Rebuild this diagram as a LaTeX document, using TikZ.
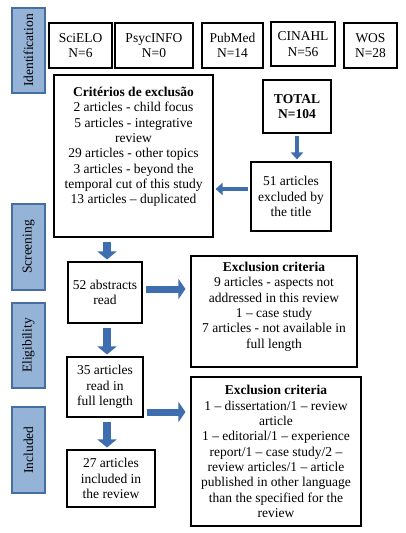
\documentclass[tikz,border=0pt]{standalone}
\usepackage{fontspec}
\setmainfont{Liberation Serif}
\usetikzlibrary{arrows.meta}
\definecolor{sideblue}{RGB}{149,179,215}
\definecolor{sideedge}{RGB}{70,110,165}
\definecolor{arrblue}{RGB}{62,110,176}
\begin{document}
\begin{tikzpicture}[x=1pt,y=-1pt,
  every node/.style={font=\fontsize{13.5}{15.3}\selectfont},
  box/.style={draw=black, line width=1.1pt, inner sep=0pt, align=center},
  txt/.style={align=center, inner sep=0pt},
  sidebox/.style={draw=sideedge, fill=sideblue, line width=1.2pt, minimum height=33pt, rotate=90, inner sep=0pt},
  arrS/.style={draw=arrblue, line width=4.5pt, -{Triangle[width=12pt,length=7pt]}, shorten >=2pt, shorten <=2pt},
  arrM/.style={draw=arrblue, line width=7pt, -{Triangle[width=20pt,length=7pt]}, shorten >=5pt, shorten <=3pt},
  arrL/.style={draw=arrblue, line width=8pt, -{Triangle[width=19pt,length=8pt]}, shorten >=2pt, shorten <=4pt}
]
\useasboundingbox (0,0) rectangle (406,533);
% side labels
\node[sidebox, minimum width=85pt] (ident) at (28.5,50.5) {Identification};
\node[sidebox, minimum width=86pt] (screen) at (28.5,247) {Screening};
\node[sidebox, minimum width=85pt] (elig) at (28.5,345.5) {Eligibility};
\node[sidebox, minimum width=86pt] (incl) at (28.5,450) {Included};
% sources
\node[box, minimum width=63pt, minimum height=45pt] (scielo) at (80.5,45.5) {SciELO\\N=6};
\node[box, minimum width=78pt, minimum height=45pt] (psyc) at (154,45.5) {PsycINFO\\N=0};
\node[box, minimum width=61pt, minimum height=45pt] (pubmed) at (232.5,45.5) {PubMed\\N=14};
\node[box, minimum width=64pt, minimum height=44pt] (cinahl) at (303,44) {CINAHL\\N=56};
\node[box, minimum width=53pt, minimum height=45pt] (wos) at (370.5,45.5) {WOS\\N=28};
% exclusion by title
\node[box, minimum width=159pt, minimum height=162pt] (crit) at (133.5,156) {};
\node[txt, anchor=north] (critt) at (133.5,87) {\textbf{Critérios de exclusão}\\2 articles - child focus\\5 articles - integrative\\review\\29 articles - other topics\\3 articles - beyond the\\temporal cut of this study\\13 articles – duplicated};
\node[box, minimum width=68pt, minimum height=53pt] (total) at (297,106.5) {\textbf{TOTAL}\\\textbf{N=104}};
\node[box, minimum width=80pt, minimum height=69pt] (title) at (291,196.5) {51 articles\\excluded by\\the title};
% screening
\node[box, minimum width=74pt, minimum height=61pt] (abs) at (105,292.5) {52 abstracts\\read};
\node[box, minimum width=166pt, minimum height=111pt] (ex1) at (274,311.5) {};
\node[txt, anchor=north] (ex1t) at (274,262) {\textbf{Exclusion criteria}\\9 articles - aspects not\\addressed in this review\\1 – case study\\7 articles - not available in\\full length};
% eligibility
\node[box, minimum width=76pt, minimum height=60pt] (full) at (105,387) {35 articles\\read in\\full length};
\node[box, minimum width=170pt, minimum height=149pt] (ex2) at (276,451.5) {};
\node[txt] (ex2t) at (276,451.5) {\textbf{Exclusion criteria}\\1 – dissertation/1 – review\\article\\1 – editorial/1 – experience\\report/1 – case study/2 –\\review articles/1 – article\\published in other language\\than the specified for the\\review};
% included
\node[box, minimum width=88pt, minimum height=57pt] (inc) at (111,478.5) {27 articles\\included in\\the review};
% arrows
\draw[arrS] (total.south) -- (title.north -| total.south);
\draw[arrS] ([yshift=7.5pt]title.west) -- ([yshift=7.5pt]title.west -| crit.east);
\draw[arrL] ([xshift=2pt]abs.north |- crit.south) -- ([xshift=2pt]abs.north);
\draw[arrM] ([yshift=3.5pt]abs.east) -- ([yshift=3.5pt]abs.east -| ex1.west);
\draw[arrL] ([xshift=2pt]abs.south) -- ([xshift=2pt]abs.south |- full.north);
\draw[arrM] ([yshift=-25pt]full.east) -- ([yshift=-25pt]full.east -| ex2.west);
\draw[arrL] ([xshift=2pt]full.south) -- ([xshift=2pt]full.south |- inc.north);
\end{tikzpicture}
\end{document}
